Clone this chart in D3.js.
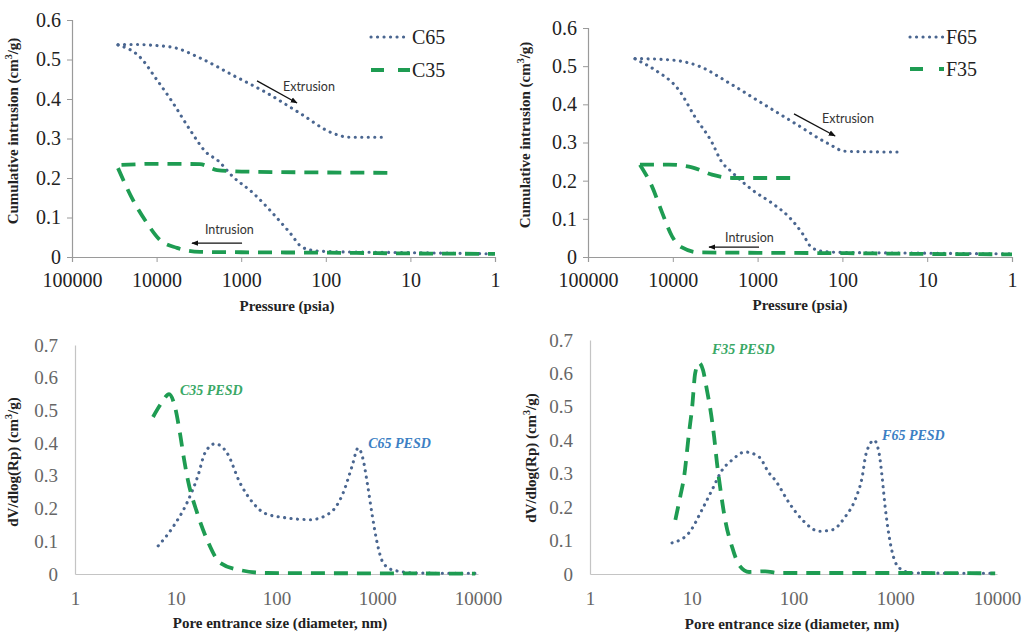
<!DOCTYPE html>
<html><head><meta charset="utf-8">
<script src="https://d3js.org/d3.v7.min.js"></script>
<style>body{margin:0;background:#fff}svg{display:block}</style>
</head><body>
<script>
// ---------- DATA ----------
// Top-left: C65 / C35 cumulative intrusion vs pressure (psia)
const c65IntP = [28600, 15700, 9890, 6400, 4030, 2540, 1930, 1250, 724, 421, 265, 191, 134, 100, 10, 1];
const c65IntV = [0.537, 0.506, 0.448, 0.39, 0.322, 0.263, 0.246, 0.203, 0.162, 0.11, 0.061, 0.025, 0.016, 0.014, 0.011, 0.008];
const c65ExtP = [28600, 20600, 6950, 3070, 1250, 495, 202, 82, 52, 21];
const c65ExtV = [0.537, 0.538, 0.532, 0.504, 0.46, 0.415, 0.364, 0.313, 0.303, 0.303];
const c35IntP = [28600, 19000, 13000, 9120, 5740, 3070, 1000, 100, 10, 1];
const c35IntV = [0.225, 0.144, 0.086, 0.043, 0.023, 0.013, 0.012, 0.011, 0.009, 0.008];
const c35ExtP = [26000, 10000, 3070, 1930, 790, 100, 16];
const c35ExtV = [0.233, 0.236, 0.235, 0.22, 0.216, 0.214, 0.213];
// Top-right: F65 / F35
const f65IntP = [27900, 16200, 8450, 5470, 3450, 2700, 2000, 1160, 676, 427, 299, 228, 160, 100, 10, 1];
const f65IntV = [0.519, 0.49, 0.437, 0.367, 0.3, 0.252, 0.222, 0.176, 0.141, 0.105, 0.063, 0.024, 0.014, 0.012, 0.01, 0.008];
const f65ExtP = [27900, 10200, 4910, 2170, 887, 362, 144, 93, 21.5];
const f65ExtV = [0.52, 0.516, 0.5, 0.456, 0.403, 0.35, 0.296, 0.277, 0.275];
const f35IntP = [24400, 17600, 13400, 10200, 7800, 4910, 1000, 100, 10, 1];
const f35IntV = [0.242, 0.185, 0.117, 0.054, 0.025, 0.012, 0.011, 0.01, 0.008, 0.007];
const f35ExtP = [24400, 11100, 5940, 3450, 2000, 325];
const f35ExtV = [0.242, 0.242, 0.235, 0.216, 0.207, 0.207];
// Bottom-left: PESD C65 / C35 vs pore entrance diameter (nm)
const c65PesdD = [6.7, 9.4, 12.9, 16.6, 19.5, 24.6, 32.3, 43.5, 58.6, 77.1, 122, 216, 341, 459, 563, 646, 724, 794, 891, 998, 1145, 1440, 2490, 9820];
const c65PesdV = [0.086, 0.144, 0.217, 0.3, 0.37, 0.398, 0.37, 0.278, 0.217, 0.185, 0.172, 0.166, 0.187, 0.248, 0.33, 0.385, 0.35, 0.28, 0.18, 0.095, 0.034, 0.012, 0.003, 0.002];
const c35PesdD = [5.95, 7.31, 8.58, 9.84, 11.0, 12.1, 13.2, 16.3, 20.5, 27.6, 43.5, 80.7, 1070, 9400];
const c35PesdV = [0.48, 0.525, 0.55, 0.51, 0.431, 0.35, 0.287, 0.187, 0.104, 0.034, 0.012, 0.003, 0.002, 0.001];
// Bottom-right: PESD F65 / F35
const f65PesdD = [6.4, 9.4, 12.6, 15.8, 19.9, 24.9, 33.4, 45.9, 57.5, 65.9, 90.5, 122, 179, 240, 322, 403, 473, 517, 620, 695, 743, 796, 891, 1092, 1466, 9600];
const f65PesdV = [0.093, 0.123, 0.192, 0.251, 0.311, 0.341, 0.365, 0.35, 0.302, 0.281, 0.213, 0.162, 0.128, 0.132, 0.171, 0.222, 0.29, 0.36, 0.40, 0.36, 0.29, 0.2, 0.095, 0.018, 0.003, 0.002];
const f35PesdD = [6.9, 7.7, 8.4, 9.4, 10.1, 10.8, 11.8, 12.9, 14.1, 15.1, 16.6, 17.7, 19.0, 21.3, 24.9, 29.2, 36.6, 52.6, 72.1, 1110, 9600];
const f35PesdV = [0.162, 0.231, 0.29, 0.422, 0.5, 0.6, 0.632, 0.61, 0.55, 0.5, 0.41, 0.332, 0.26, 0.162, 0.081, 0.027, 0.006, 0.008, 0.003, 0.003, 0.002];

// tick labels
const pressureTicks = [100000, 10000, 1000, 100, 10, 1];
const sizeTicks = [1, 10, 100, 1000, 10000];
const cumTicks = [0, 0.1, 0.2, 0.3, 0.4, 0.5, 0.6];
const pesdTicks = [0, 0.1, 0.2, 0.3, 0.4, 0.5, 0.6, 0.7];

// ---------- DRAW ----------
const W = 1024, H = 633;
const SERIF = "Liberation Serif";
const svg = d3.select("body").append("svg").attr("width", W).attr("height", H);
svg.append("rect").attr("width", W).attr("height", H).attr("fill", "#fff");

const defs = svg.append("defs");
defs.append("marker").attr("id", "arr").attr("viewBox", "0 0 10 10").attr("refX", 9).attr("refY", 5)
  .attr("markerWidth", 7).attr("markerHeight", 7).attr("orient", "auto-start-reverse")
  .attr("markerUnits", "userSpaceOnUse")
  .append("path").attr("d", "M0,1 L10,5 L0,9 Z").attr("fill", "#111");

const BLUE = "#4a6690", GREEN = "#1e9c52";
const zip = (a, b) => a.map((v, i) => [v, b[i]]);

function styleDotted(sel) {
  sel.attr("fill", "none").attr("stroke", BLUE).attr("stroke-width", 3.1)
    .attr("stroke-linecap", "round").attr("stroke-dasharray", "0.1,6.4");
}
function styleDashed(sel) {
  sel.attr("fill", "none").attr("stroke", GREEN).attr("stroke-width", 3.8)
    .attr("stroke-dasharray", "14,9");
}

function yTitle(g, x, y, main) {
  const t = g.append("text").attr("transform", `translate(${x},${y}) rotate(-90)`)
    .attr("text-anchor", "middle").attr("font-family", SERIF).attr("font-weight", "bold")
    .attr("font-size", 15).attr("fill", "#222");
  t.append("tspan").text(main + "(cm");
  t.append("tspan").attr("dy", -6).attr("font-size", 10).text("3");
  t.append("tspan").attr("dy", 6).text("/g)");
}

function panel(cfg) {
  const g = svg.append("g");
  const x = cfg.x, y = cfg.y;
  const ya = g.append("g").attr("transform", `translate(${x.range()[0]},0)`)
    .call(d3.axisLeft(y).tickValues(cfg.yTicks).tickSizeOuter(0).tickSize(cfg.tick)
      .tickPadding(cfg.yPad).tickFormat(d => d === 0 ? "0" : d3.format(".1f")(d)));
  const xa = g.append("g").attr("transform", `translate(0,${y(0)})`)
    .call(d3.axisBottom(x).tickValues(cfg.xTicks).tickSizeOuter(0).tickSize(cfg.tick)
      .tickPadding(cfg.xPad).tickFormat(d3.format("d")));
  [ya, xa].forEach(a => {
    a.attr("font-family", SERIF).attr("font-size", cfg.fs);
    a.select(".domain").attr("stroke", cfg.axisColor).attr("stroke-width", 1.2);
    a.selectAll(".tick line").attr("stroke", cfg.axisColor);
    a.selectAll(".tick text").attr("fill", cfg.labelColor);
  });
  const line = d3.line().x(d => x(d[0])).y(d => y(d[1])).curve(d3.curveMonotoneX);
  cfg.series.forEach(s => {
    const p = g.append("path").attr("d", line(s.data));
    (s.dotted ? styleDotted : styleDashed)(p);
  });
  g.append("text").attr("x", cfg.xTitle[1]).attr("y", cfg.xTitle[2]).attr("text-anchor", "middle")
    .attr("font-family", SERIF).attr("font-weight", "bold").attr("font-size", 15)
    .attr("fill", "#222").text(cfg.xTitle[0]);
  yTitle(g, cfg.yTitle[1], cfg.yTitle[2], cfg.yTitle[0]);
  (cfg.notes || []).forEach(n => {
    g.append("text").attr("x", x(n.at[0])).attr("y", y(n.at[1]))
      .attr("font-family", n.serif ? SERIF : "Lato")
      .attr("font-size", n.size).attr("font-weight", n.serif ? "bold" : "normal")
      .attr("font-style", n.serif ? "italic" : "normal")
      .attr("fill", n.color).text(n.text);
  });
  (cfg.arrows || []).forEach(a => {
    g.append("line").attr("x1", x(a[0][0])).attr("y1", y(a[0][1]))
      .attr("x2", x(a[1][0])).attr("y2", y(a[1][1]))
      .attr("stroke", "#111").attr("stroke-width", 1.3).attr("marker-end", "url(#arr)");
  });
  if (cfg.legend) {
    const L = cfg.legend;
    L.items.forEach((it, i) => {
      const ly = L.y[i];
      const p = g.append("line").attr("x1", L.x0).attr("x2", L.x1).attr("y1", ly).attr("y2", ly);
      if (it.dotted) styleDotted(p);
      else { styleDashed(p); p.attr("stroke-dasharray", L.dash); }
      g.append("text").attr("x", L.x1 + 2).attr("y", ly + 7).attr("font-family", SERIF)
        .attr("font-size", 20).attr("fill", "#222").text(it.name);
    });
  }
}

const grey1 = "#9a9a9a", grey2 = "#c4c4c4";

panel({
  x: d3.scaleLog().domain([100000, 1]).range([72, 495]),
  y: d3.scaleLinear().domain([0, 0.6]).range([257, 20]),
  xTicks: pressureTicks, yTicks: cumTicks, tick: 5, xPad: 11, yPad: 6, fs: 20,
  axisColor: grey1, labelColor: "#222",
  series: [
    {data: zip(c65IntP, c65IntV), dotted: true},
    {data: zip(c65ExtP, c65ExtV), dotted: true},
    {data: zip(c35IntP, c35IntV), dotted: false},
    {data: zip(c35ExtP, c35ExtV), dotted: false}
  ],
  xTitle: ["Pressure (psia)", 287, 311],
  yTitle: ["Cumulative intrusion ", 18, 131],
  notes: [
    {text: "Extrusion", at: [321, 0.42], size: 12.5, color: "#333"},
    {text: "Intrusion", at: [2680, 0.058], size: 12.5, color: "#333"}
  ],
  arrows: [[[650, 0.446], [219, 0.39]], [[977, 0.035], [3820, 0.035]]],
  legend: {x0: 371, x1: 410, y: [37, 70], dash: "13,14",
    items: [{name: "C65", dotted: true}, {name: "C35", dotted: false}]}
});

panel({
  x: d3.scaleLog().domain([100000, 1]).range([588, 1012]),
  y: d3.scaleLinear().domain([0, 0.6]).range([257, 28]),
  xTicks: pressureTicks, yTicks: cumTicks, tick: 5, xPad: 11, yPad: 6, fs: 20,
  axisColor: grey1, labelColor: "#222",
  series: [
    {data: zip(f65IntP, f65IntV), dotted: true},
    {data: zip(f65ExtP, f65ExtV), dotted: true},
    {data: zip(f35IntP, f35IntV), dotted: false},
    {data: zip(f35ExtP, f35ExtV), dotted: false}
  ],
  xTitle: ["Pressure (psia)", 800, 310],
  yTitle: ["Cumulative intrusion ", 530, 135],
  notes: [
    {text: "Extrusion", at: [174, 0.351], size: 12.5, color: "#333"},
    {text: "Intrusion", at: [2420, 0.039], size: 12.5, color: "#333"}
  ],
  arrows: [[[372, 0.375], [122, 0.317]], [[962, 0.026], [3740, 0.026]]],
  legend: {x0: 910, x1: 944, y: [37, 69], dash: "13,16",
    items: [{name: "F65", dotted: true}, {name: "F35", dotted: false}]}
});

panel({
  x: d3.scaleLog().domain([1, 10000]).range([75, 478]),
  y: d3.scaleLinear().domain([0, 0.7]).range([574, 345]),
  xTicks: sizeTicks, yTicks: pesdTicks, tick: 0, xPad: 18, yPad: 17, fs: 19,
  axisColor: grey2, labelColor: "#666",
  series: [
    {data: zip(c65PesdD, c65PesdV), dotted: true},
    {data: zip(c35PesdD, c35PesdV), dotted: false}
  ],
  xTitle: ["Pore entrance size (diameter, nm)", 280, 628],
  yTitle: ["dV/dlog(Rp) ", 18, 462],
  notes: [
    {text: "C35 PESD", at: [11.0, 0.547], size: 14, color: "#3aa866", serif: true},
    {text: "C65 PESD", at: [813, 0.385], size: 14, color: "#3c7fc4", serif: true}
  ]
});

panel({
  x: d3.scaleLog().domain([1, 10000]).range([590, 997]),
  y: d3.scaleLinear().domain([0, 0.7]).range([574, 340]),
  xTicks: sizeTicks, yTicks: pesdTicks, tick: 0, xPad: 18, yPad: 17, fs: 19,
  axisColor: grey2, labelColor: "#666",
  series: [
    {data: zip(f65PesdD, f65PesdV), dotted: true},
    {data: zip(f35PesdD, f35PesdV), dotted: false}
  ],
  xTitle: ["Pore entrance size (diameter, nm)", 792, 629],
  yTitle: ["dV/dlog(Rp) ", 536, 458],
  notes: [
    {text: "F35 PESD", at: [15.8, 0.659], size: 14, color: "#3aa866", serif: true},
    {text: "F65 PESD", at: [743, 0.401], size: 14, color: "#3c7fc4", serif: true}
  ]
});
</script>
</body></html>
